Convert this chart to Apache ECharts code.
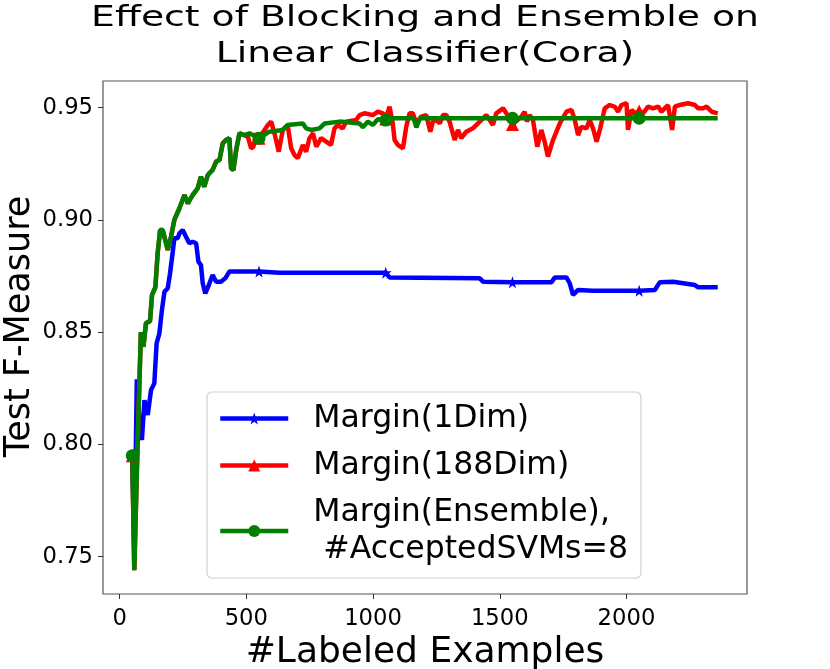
<!DOCTYPE html>
<html>
<head>
<meta charset="utf-8">
<script src="https://cdn.jsdelivr.net/npm/echarts@6/dist/echarts.min.js"></script>
<style>html,body{margin:0;padding:0;background:#fff;}#c{width:830px;height:669px;}</style>
</head>
<body>
<div id="c"></div>
<script>
const titleLines = ['Effect of Blocking and Ensemble on', 'Linear Classifier(Cora)'];
const xName = '#Labeled Examples';
const yName = 'Test F-Measure';
const xTicks = [0, 500, 1000, 1500, 2000];
const yTicks = [0.75, 0.80, 0.85, 0.90, 0.95];
const markerX = [50, 550, 1050, 1550, 2050];
const seriesNames = ['Margin(1Dim)', 'Margin(188Dim)', 'Margin(Ensemble),\n #AcceptedSVMs=8'];

const blueX = [50,58,68,80,88,98,111,124,137,146,157,167,177,190,199,209,216,229,236,249,262,275,288,302,311,321,328,338,352,367,381,400,417,433,473,550,631,868,1050,1065,1421,1434,1550,1704,1717,1763,1776,1789,1809,1868,2050,2112,2131,2184,2270,2283,2360];
const blueY = [0.795,0.752,0.829,0.806,0.802,0.8197,0.8131,0.8242,0.8272,0.845,0.8495,0.8599,0.868,0.8696,0.8762,0.8851,0.8918,0.8918,0.894,0.8955,0.8925,0.8896,0.8903,0.8896,0.8814,0.8799,0.8718,0.8673,0.871,0.8755,0.8725,0.8725,0.874,0.877,0.877,0.877,0.8765,0.8765,0.8765,0.8744,0.874,0.8725,0.8722,0.8722,0.8744,0.8744,0.8718,0.8666,0.8688,0.8685,0.8685,0.8688,0.8722,0.8725,0.871,0.87,0.87];

const redX = [50,58,70,84,94,104,120,128,141,150,160,170,190,203,216,236,256,269,288,308,321,334,348,367,381,394,407,420,433,440,449,460,473,492,506,519,528,539,550,585,598,611,628,644,663,670,677,690,703,710,723,736,749,763,776,795,815,834,848,861,880,894,933,947,966,999,1019,1039,1050,1065,1078,1085,1098,1118,1131,1144,1157,1171,1190,1210,1226,1236,1250,1263,1276,1289,1302,1322,1335,1348,1368,1394,1421,1447,1473,1486,1513,1526,1550,1585,1598,1607,1618,1631,1648,1664,1677,1690,1710,1737,1763,1783,1796,1809,1822,1842,1855,1868,1882,1895,1914,1934,1954,1967,1980,2000,2006,2020,2033,2050,2066,2085,2105,2125,2138,2151,2164,2180,2191,2210,2243,2270,2283,2303,2316,2336,2360];
const redY = [0.795,0.744,0.796,0.850,0.8435,0.854,0.855,0.8666,0.870,0.885,0.8955,0.8955,0.8866,0.8925,0.900,0.9052,0.9111,0.9074,0.9111,0.9141,0.9193,0.9148,0.920,0.9223,0.926,0.9267,0.9341,0.9356,0.9364,0.923,0.9222,0.9312,0.9386,0.9378,0.9371,0.9319,0.9326,0.9386,0.9364,0.9423,0.9438,0.9386,0.9304,0.9401,0.9423,0.9371,0.9319,0.9289,0.9275,0.9267,0.9334,0.9304,0.9364,0.9386,0.9326,0.9364,0.9349,0.9334,0.9408,0.9423,0.9408,0.9438,0.9445,0.9467,0.9475,0.9467,0.9482,0.9475,0.945,0.9505,0.943,0.9356,0.9334,0.9319,0.9415,0.9475,0.9475,0.943,0.946,0.9467,0.9393,0.9438,0.9445,0.943,0.9467,0.9467,0.9438,0.9356,0.9401,0.9364,0.9393,0.9408,0.9438,0.9467,0.9423,0.9475,0.9497,0.9475,0.9425,0.946,0.9482,0.9438,0.9467,0.9445,0.9326,0.9401,0.9349,0.9282,0.9356,0.943,0.9482,0.949,0.9445,0.9378,0.9415,0.9408,0.9445,0.9408,0.9349,0.9401,0.9497,0.9512,0.9504,0.9482,0.9512,0.952,0.9401,0.949,0.9475,0.9485,0.9475,0.9505,0.9497,0.9505,0.9482,0.9497,0.9512,0.9401,0.9505,0.9512,0.952,0.9512,0.9497,0.9497,0.9505,0.9482,0.9475];

const greenX = [50,58,70,84,94,104,120,128,141,150,160,170,190,203,216,236,256,269,288,308,321,334,348,367,381,394,407,420,433,440,449,460,473,492,512,550,591,644,663,723,736,756,789,809,868,947,960,980,999,1019,1050,1070,1160,1171,1185,1550,2050,2360];
const greenY = [0.795,0.744,0.796,0.850,0.8435,0.854,0.855,0.8666,0.870,0.885,0.8955,0.8955,0.8866,0.8925,0.900,0.9052,0.9111,0.9074,0.9111,0.9141,0.9193,0.9148,0.920,0.9223,0.926,0.9267,0.9341,0.9356,0.9364,0.923,0.9222,0.9312,0.9386,0.9378,0.9386,0.9364,0.9393,0.9401,0.9423,0.943,0.9408,0.9401,0.9408,0.943,0.9438,0.943,0.9413,0.9438,0.9423,0.9448,0.9445,0.9453,0.9453,0.9412,0.9453,0.9453,0.9453,0.9453];

const FONT = 'DejaVu Sans';
const starPath = 'path://M50,0L61.8,35.1L98.9,35.5L69.1,57.7L79.4,93.5L50,72L20.6,93.5L30.9,57.7L1.1,35.5L38.2,35.1Z';

function pairs(xs, ys) { return xs.map((x, i) => [x, ys[i]]); }
function mkSeries(name, xs, ys, color, symbol, size) {
  return {
    name: name, type: 'line', data: pairs(xs, ys),
    symbol: symbol, showSymbol: true, showAllSymbol: true,
    symbolSize: function (v) { return markerX.indexOf(v[0]) >= 0 ? size : 0; },
    lineStyle: { color: color, width: 4.5 },
    itemStyle: { color: color, borderWidth: 0 },
    emphasis: { disabled: true },
    animation: false
  };
}

const chart = echarts.init(document.getElementById('c'), null, { renderer: 'canvas' });
chart.setOption({
  backgroundColor: '#fff',
  animation: false,
  grid: { left: 103, right: 83, top: 81, bottom: 75, containLabel: false, outerBoundsMode: 'none', show: true, borderColor: '#555', borderWidth: 1.2, backgroundColor: 'transparent' },
  graphic: [
    { type: 'text', x: 425, y: 18.5, scaleX: 1.3, style: { text: titleLines[0], font: '29px "DejaVu Sans"', fill: '#000', textAlign: 'center', textVerticalAlign: 'middle', align: 'center', verticalAlign: 'middle' } },
    { type: 'text', x: 425, y: 54, scaleX: 1.3, style: { text: titleLines[1], font: '29px "DejaVu Sans"', fill: '#000', textAlign: 'center', textVerticalAlign: 'middle', align: 'center', verticalAlign: 'middle' } }
  ],
  xAxis: {
    type: 'value', min: -65.5, max: 2475.5,
    name: xName, nameLocation: 'middle', nameGap: 41, nameMoveOverlap: false,
    nameTextStyle: { fontFamily: FONT, fontSize: 36, color: '#000' },
    axisLine: { show: false, onZero: false },
    splitLine: { show: false },
    axisTick: { show: true, length: 5, customValues: xTicks, lineStyle: { color: '#333' } },
    axisLabel: { customValues: xTicks, margin: 14, fontFamily: FONT, fontSize: 22.7, color: '#000', formatter: function (v) { return String(Math.round(v)); } }
  },
  yAxis: {
    type: 'value', min: 0.73338, max: 0.96189,
    name: yName, nameLocation: 'middle', nameGap: 66, nameMoveOverlap: false,
    nameTextStyle: { fontFamily: FONT, fontSize: 35, color: '#000', padding: [0, 0, 0, 22] },
    axisLine: { show: false, onZero: false },
    splitLine: { show: false },
    axisTick: { show: true, length: 5, customValues: yTicks, lineStyle: { color: '#333' } },
    axisLabel: { customValues: yTicks, margin: 10, fontFamily: FONT, fontSize: 22.7, color: '#000', formatter: function (v) { return v.toFixed(2); } }
  },
  legend: {
    orient: 'vertical', left: 207, top: 392,
    padding: [8, 13, 10, 11], itemGap: 10,
    itemWidth: 68, itemHeight: 15,
    backgroundColor: 'rgba(255,255,255,0.85)', borderColor: '#d0d0d0', borderWidth: 1.2, borderRadius: 5,
    lineStyle: { width: 4.5 },
    textStyle: { fontFamily: FONT, fontSize: 31.5, lineHeight: 37, color: '#000', padding: [0, 0, 0, 20] },
    data: seriesNames
  },
  series: [
    mkSeries(seriesNames[0], blueX, blueY, '#0000ff', starPath, 12),
    mkSeries(seriesNames[1], redX, redY, '#ff0000', 'triangle', 13),
    mkSeries(seriesNames[2], greenX, greenY, '#008000', 'circle', 13)
  ]
});
</script>
</body>
</html>
